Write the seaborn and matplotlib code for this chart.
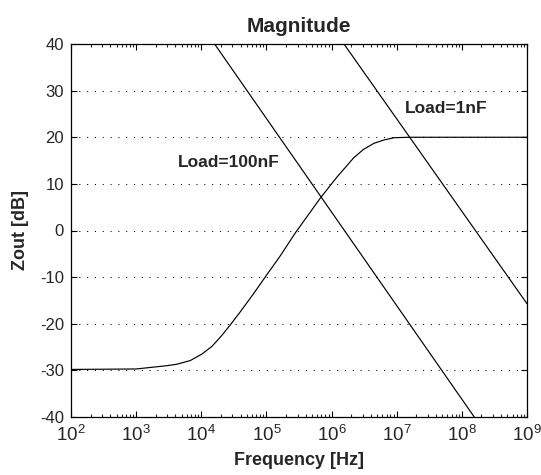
import numpy as np
import pandas as pd
import matplotlib
matplotlib.use("Agg")
import matplotlib.pyplot as plt
import seaborn as sns
from matplotlib.ticker import LogLocator, NullFormatter

# ---- data ----
freq_out = [1e2, 1e3, 2.95e3, 4.17e3, 6.76e3, 1.023e4, 1.445e4, 2.042e4,
            2.951e4, 3.89e4, 6.31e4, 9.55e4, 1.62e5, 2.75e5, 6.76e5, 1.2e6,
            2.19e6, 3.09e6, 4.47e6, 6.31e6, 9.12e6, 1.55e7, 1e9]
zout_db = [-29.8, -29.7, -29.0, -28.7, -27.9, -26.5, -24.9, -22.6,
           -19.8, -17.6, -13.6, -10.0, -5.5, -0.6, 7.0, 11.4,
           15.6, 17.4, 18.7, 19.4, 19.9, 20.0, 20.0]

freq_100nf = [1.6e4, 1.55e8]
load_100nf_db = [40, -40]

freq_1nf = [1.55e6, 1e9]
load_1nf_db = [40, -15.7]

label_100nf = "Load=100nF"
label_1nf = "Load=1nF"
label_100nf_pos = (4.4e3, 13.6)
label_1nf_pos = (1.32e7, 25.1)

xticks = [1e2, 1e3, 1e4, 1e5, 1e6, 1e7, 1e8, 1e9]
xtick_labels = [r"$\mathdefault{10^{%d}}$" % e for e in range(2, 10)]
yticks = [-40, -30, -20, -10, 0, 10, 20, 30, 40]
ytick_labels = ["-40", "-30", "-20", "-10", "0", "10", "20", "30", "40"]

title = "Magnitude"
xlabel = "Frequency [Hz]"
ylabel = "Zout [dB]"

# ---- style ----
sns.set_style("ticks")
plt.rcParams["font.family"] = ["Liberation Sans", "DejaVu Sans"]
plt.rcParams["mathtext.default"] = "regular"

fig = plt.figure(figsize=(5.41, 4.75), dpi=100)
ax = fig.add_axes([71 / 541, 1 - 417 / 475, (527 - 71) / 541, (417 - 44) / 475])

df_out = pd.DataFrame({"f": freq_out, "db": zout_db})
df_100 = pd.DataFrame({"f": freq_100nf, "db": load_100nf_db})
df_1 = pd.DataFrame({"f": freq_1nf, "db": load_1nf_db})

for d in (df_out, df_100, df_1):
    sns.lineplot(data=d, x="f", y="db", ax=ax, color="black", linewidth=0.85,
                 estimator=None, sort=False, legend=False)

ax.set_xscale("log")
ax.set_xlim(1e2, 1e9)
ax.set_ylim(-40, 40)

ax.set_xticks(xticks, labels=xtick_labels)
ax.xaxis.set_minor_locator(LogLocator(base=10, subs=np.arange(2, 10), numticks=20))
ax.xaxis.set_minor_formatter(NullFormatter())
ax.set_yticks(yticks, labels=ytick_labels)

ax.tick_params(axis="both", which="major", direction="in", length=4.5, width=0.8,
               top=True, right=True, color="black")
ax.tick_params(axis="x", which="minor", direction="in", length=2.5, width=0.8,
               top=True, bottom=True)
ax.tick_params(axis="x", which="major", labelsize=13.5, pad=6)
ax.tick_params(axis="y", which="major", labelsize=12, pad=5)
for lab in ax.get_xticklabels():
    lab.set_family(["Liberation Sans Narrow", "Liberation Sans", "DejaVu Sans"])

ax.yaxis.grid(True, color="black", linestyle=(0, (1, 6.5)), linewidth=0.75)
ax.xaxis.grid(False)

for s in ax.spines.values():
    s.set_color("black")
    s.set_linewidth(0.9)

ax.text(label_100nf_pos[0], label_100nf_pos[1], label_100nf, fontsize=12.5,
        fontweight="bold", ha="left", va="baseline")
ax.text(label_1nf_pos[0], label_1nf_pos[1], label_1nf, fontsize=12.5,
        fontweight="bold", ha="left", va="baseline")

ax.set_title(title, fontsize=15, fontweight="bold", pad=9)
ax.set_xlabel(xlabel, fontsize=13, fontweight="bold", labelpad=5)
ax.set_ylabel(ylabel, fontsize=13, fontweight="bold", labelpad=8)

fig.savefig("out.png", dpi=100)
